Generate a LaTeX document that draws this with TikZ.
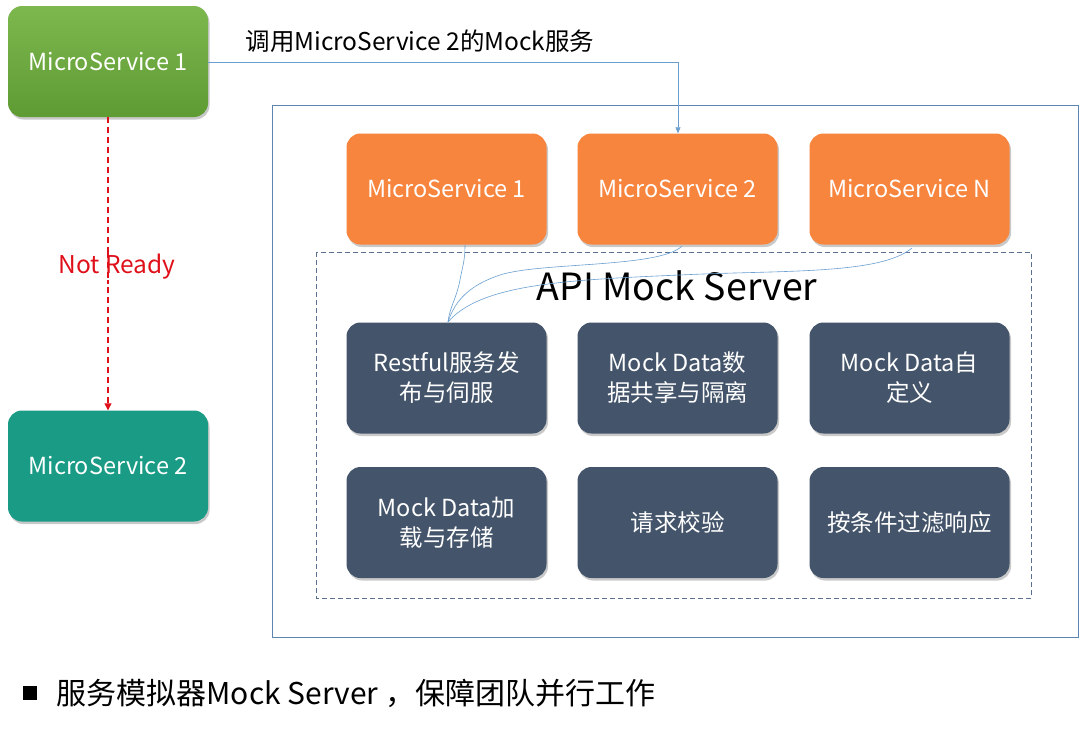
\documentclass[tikz,border=0pt]{standalone}
\usepackage{fontspec}
\setmainfont{Noto Sans CJK SC}
\usetikzlibrary{arrows.meta,shadows}
\definecolor{msgreenA}{HTML}{7DB84E}
\definecolor{msgreenB}{HTML}{5E9B33}
\definecolor{msteal}{HTML}{1A9B85}
\definecolor{msorange}{HTML}{F7853E}
\definecolor{msdark}{HTML}{44546A}
\definecolor{msline}{HTML}{6A9FD0}
\definecolor{msframe}{HTML}{5B84B0}
\definecolor{msdash}{HTML}{5A7090}
\definecolor{msred}{HTML}{E0101A}
\begin{document}
\begin{tikzpicture}[x=1pt,y=-1pt,
  boxbase/.style={rounded corners=14pt, minimum width=200pt, minimum height=111pt, inner sep=0pt, text=white, font=\fontsize{23.5}{30}\selectfont, align=center, drop shadow={shadow xshift=1.5pt, shadow yshift=-2.5pt, opacity=0.35, fill=black!60}},
  greenbox/.style={boxbase, top color=msgreenA, bottom color=msgreenB},
  tealbox/.style={boxbase, fill=msteal},
  orangebox/.style={boxbase, fill=msorange},
  darkbox/.style={boxbase, fill=msdark},
  link/.style={draw=msline, line width=0.6pt},
]
\useasboundingbox (0,0) rectangle (1080,732);
\fill[white] (0,0) rectangle (1080,732);

% frames
\draw[msframe, line width=0.9pt] (272,105) rectangle (1078,637);
\draw[msdash, line width=0.8pt, dash pattern=on 5pt off 3pt] (316,252) rectangle (1031,598);

% left nodes
\node[greenbox] (ms1) at (108,61.5) {MicroService 1};
\node[tealbox] (ms2) at (108,466) {MicroService 2};

% orange row
\node[orangebox] (o1) at (446.5,189) {MicroService 1};
\node[orangebox] (o2) at (677.5,189) {MicroService 2};
\node[orangebox] (o3) at (909.5,189) {MicroService N};

% dark rows
\node[darkbox] (d1) at (446.5,378) {Restful服务发\\布与伺服};
\node[darkbox] (d2) at (677.5,378) {Mock Data数\\据共享与隔离};
\node[darkbox] (d3) at (909.5,378) {Mock Data自\\定义};
\node[darkbox] (d4) at (446.5,522.5) {Mock Data加\\载与存储};
\node[darkbox] (d5) at (677.5,522.5) {请求校验};
\node[darkbox] (d6) at (909.5,522.5) {按条件过滤响应};

\node[font=\fontsize{37.5}{44}\selectfont, text=black] (title) at (677,286) {API Mock Server};

% call arrow
\coordinate (bend) at (678,62);
\draw[link, -{Triangle[length=6pt,width=5pt]}] (ms1.east |- 0,62) -- (bend) -- (o2.north -| bend);
\node[font=\fontsize{24.5}{30}\selectfont, anchor=west] (calllbl) at (242,41) {调用MicroService 2的Mock服务};

% not ready
\draw[msred, line width=1.2pt, dash pattern=on 6pt off 4pt, -{Triangle[length=7pt,width=7pt]}] (ms1.south) -- (ms2.north);
\node[fill=white, inner sep=0pt, text=msred, font=\fontsize{24.5}{28}\selectfont] (nr) at (117,267) {Not Ready};
\draw[msred, line width=1.2pt, dash pattern=on 6pt off 4pt] (108,252) -- (108,284);

% curves
\coordinate (o1b) at (465,245);
\coordinate (o2b) at (682,246);
\coordinate (o3b) at (912,248);
\coordinate (d1t) at (448,322);
\draw[link] (o1b) .. controls (465,262) and (462,268) .. (460,280) .. controls (456,300) and (450,306) .. (d1t);
\draw[link] (o2b) .. controls (660,268) and (540,262) .. (500,275) .. controls (470,285) and (455,300) .. (d1t);
\draw[link] (o3b) .. controls (880,275) and (780,270) .. (680,275) .. controls (560,280) and (480,285) .. (d1t);

% bottom caption
\fill[black] (23,686) rectangle (37,700);
\node[font=\fontsize{30}{34}\selectfont, anchor=west] (cap) at (53,693) {服务模拟器Mock Server ，保障团队并行工作};
\end{tikzpicture}
\end{document}
